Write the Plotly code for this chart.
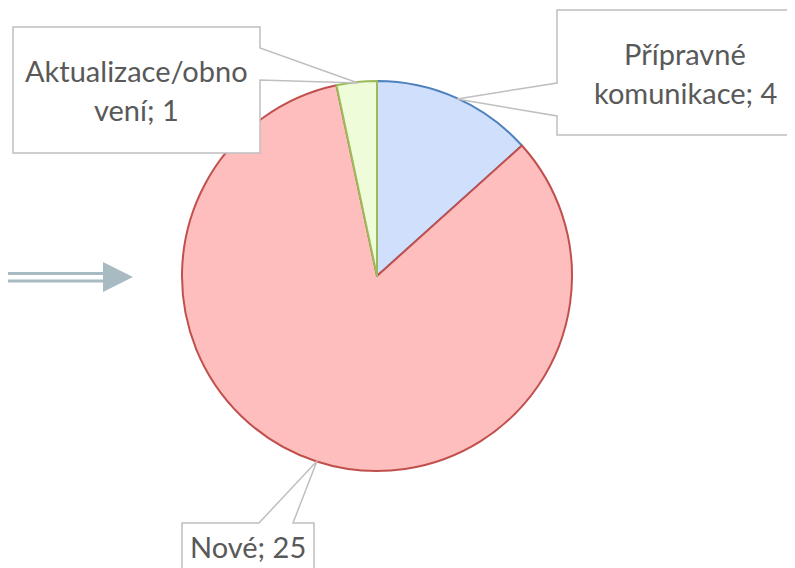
import plotly.graph_objects as go

labels = ["Přípravné komunikace", "Nové", "Aktualizace/obnovení"]
values = [4, 25, 1]
fill_colors = ["#cfdffc", "#ffbebe", "#eefcd9"]
line_colors = ["#4f81bd", "#c0504d", "#9bbb59"]

# the page adds an 8 px body margin, so the figure is drawn 8 px smaller and shifted
OFF = 8
W, H = 795 - OFF, 568 - OFF
FONT = "Lato"
FS = 29
TXT = "#595959"

def px(x):
    return (x - OFF) / W

def py(y):
    return 1 - (y - OFF) / H

fig = go.Figure()
fig.add_trace(go.Pie(
    labels=labels, values=values, sort=False, direction="clockwise", rotation=0,
    marker=dict(colors=fill_colors, line=dict(color=line_colors, width=2)),
    textinfo="none", showlegend=False,
    domain=dict(x=[px(377 - 195), px(377 + 195)], y=[py(471), py(81)]),
))

def path(points, close=True):
    s = "M " + " L ".join(f"{px(x):.5f},{py(y):.5f}" for x, y in points)
    return s + (" Z" if close else "")

callouts = [
    [(13, 27), (260, 27), (260, 48), (358, 83), (260, 80), (260, 153), (13, 153)],
    [(557, 10), (800, 10), (800, 135), (557, 135), (557, 116), (457, 99), (557, 83)],
    [(182, 580), (182, 523), (259, 523), (317, 461), (293, 523), (314, 523), (314, 580)],
]
shapes = []
for pts in callouts:
    shapes.append(dict(type="path", xref="paper", yref="paper", path=path(pts),
                       fillcolor="white", line=dict(color="#bfbfbf", width=1.5), layer="above"))

# arrow on the left
ac = "#a8bbc3"
for yy in (273.5, 281):
    shapes.append(dict(type="line", xref="paper", yref="paper", x0=px(0), x1=px(104),
                       y0=py(yy), y1=py(yy), line=dict(color=ac, width=3)))
shapes.append(dict(type="path", xref="paper", yref="paper",
                   path=path([(103, 262), (133, 277), (103, 292)]),
                   fillcolor=ac, line=dict(color=ac, width=0)))

label_lines = [
    ("Aktualizace/obno", 136.5, 81),
    ("vení; 1", 136.5, 120),
    ("Přípravné", 685, 64),
    ("komunikace; 4", 685, 103),
    ("Nové; 25", 248, 557),
]
annotations = []
for t, x, yb in label_lines:
    annotations.append(dict(text=t, x=px(x), y=py(yb - 0.36 * FS), xref="paper", yref="paper",
                            xanchor="center", yanchor="middle", showarrow=False,
                            font=dict(family=FONT, size=FS, color=TXT)))

fig.update_layout(
    width=W, height=H, margin=dict(l=0, r=0, t=0, b=0),
    paper_bgcolor="white", plot_bgcolor="white",
    shapes=shapes, annotations=annotations,
)
fig.write_html("out.html")
